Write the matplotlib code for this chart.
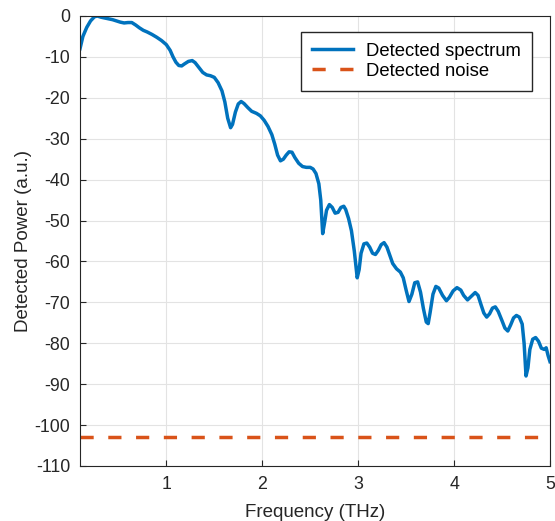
import matplotlib
matplotlib.use("Agg")
import matplotlib.pyplot as plt

plt.rcParams['font.family'] = ['Liberation Sans', 'DejaVu Sans']
plt.rcParams['axes.unicode_minus'] = False

# spectrum (THz, a.u.)
freq = [0.10, 0.13, 0.17, 0.21, 0.25, 0.28, 0.32, 0.36, 0.40, 0.44, 0.48, 0.52,
        0.56, 0.60, 0.64, 0.68, 0.72, 0.76, 0.80, 0.85, 0.90, 0.95, 1.00, 1.04,
        1.07, 1.10, 1.13, 1.16, 1.19, 1.23, 1.27, 1.30, 1.34, 1.38, 1.42, 1.46,
        1.50, 1.54, 1.58, 1.61, 1.64, 1.67, 1.69, 1.72, 1.75, 1.78, 1.81, 1.85,
        1.89, 1.94, 1.98, 2.02, 2.06, 2.10, 2.13, 2.16, 2.19, 2.22, 2.25, 2.28,
        2.31, 2.34, 2.38, 2.42, 2.46, 2.50, 2.53, 2.56, 2.59, 2.61, 2.63, 2.65,
        2.67, 2.70, 2.73, 2.76, 2.79, 2.82, 2.85, 2.87, 2.90, 2.93, 2.96, 2.99,
        3.01, 3.03, 3.06, 3.09, 3.12, 3.15, 3.18, 3.21, 3.24, 3.27, 3.30, 3.33,
        3.36, 3.40, 3.44, 3.47, 3.50, 3.53, 3.56, 3.59, 3.62, 3.65, 3.68, 3.71,
        3.73, 3.75, 3.78, 3.81, 3.84, 3.88, 3.92, 3.95, 3.99, 4.03, 4.07, 4.10,
        4.14, 4.18, 4.22, 4.25, 4.28, 4.31, 4.34, 4.37, 4.40, 4.43, 4.46, 4.50,
        4.53, 4.56, 4.59, 4.62, 4.65, 4.68, 4.71, 4.73, 4.75, 4.77, 4.79, 4.82,
        4.85, 4.88, 4.91, 4.94, 4.96, 4.98, 5.00]
power = [-8.0, -5.0, -2.8, -1.2, -0.2, 0.0, -0.3, -0.5, -0.7, -0.9, -1.2, -1.5,
         -1.7, -1.6, -1.6, -2.2, -2.9, -3.5, -3.9, -4.5, -5.2, -6.0, -7.0, -8.4,
         -10.0, -11.3, -12.1, -12.2, -11.7, -11.1, -10.9, -11.4, -12.6, -13.8, -14.4, -14.6,
         -15.0, -16.3, -18.3, -21.0, -25.0, -27.3, -26.5, -23.5, -21.5, -20.9, -21.4, -22.4,
         -23.3, -23.8, -24.4, -25.5, -27.0, -29.0, -31.3, -34.0, -35.4, -35.0, -34.0, -33.2,
         -33.3, -34.6, -36.0, -36.8, -37.0, -37.0, -37.4, -38.5, -41.0, -45.0, -53.2, -50.5,
         -47.5, -46.1, -46.8, -48.2, -48.0, -46.8, -46.5, -47.3, -49.5, -52.5, -57.5, -64.0,
         -62.0, -58.0, -55.7, -55.5, -56.5, -58.0, -58.3, -57.3, -55.9, -55.4, -56.5, -58.5,
         -60.5, -61.8, -62.6, -64.0, -67.0, -69.8, -68.0, -65.2, -65.0, -67.5, -71.5, -74.8,
         -75.2, -72.5, -68.0, -66.1, -66.5, -68.3, -69.6, -68.8, -67.2, -66.4, -67.0, -68.3,
         -69.4, -68.5, -67.6, -68.3, -70.5, -72.6, -73.6, -72.8, -71.4, -71.1, -72.2, -74.5,
         -76.3, -77.0, -75.5, -73.8, -73.2, -73.6, -75.3, -80.0, -88.0, -86.0, -81.5, -79.0,
         -78.6, -79.5, -81.2, -81.5, -81.1, -83.0, -84.5]

noise_freq = [0.10, 5.00]
noise_level = [-103, -103]

xticks = [1, 2, 3, 4, 5]
yticks = list(range(0, -111, -10))

fig = plt.figure(figsize=(5.55, 5.21), dpi=100)
ax = fig.add_axes([80 / 555, 1 - 466 / 521, 470 / 555, 450 / 521])

ax.plot(freq, power, color='#0072BD', lw=2.5, label='Detected spectrum')
ax.plot(noise_freq, noise_level, color='#D95319', lw=2.5, dashes=(3.8, 4.2),
        label='Detected noise')

ax.set_xlim(0.1, 5)
ax.set_ylim(-110, 0)
ax.set_xticks(xticks)
ax.set_yticks(yticks)
ax.grid(True, color='#e3e3e3', lw=0.8)
ax.set_axisbelow(True)
ax.tick_params(direction='in', length=4, labelsize=12.8, colors='#262626', pad=7)
for s in ax.spines.values():
    s.set_color('#262626')
    s.set_linewidth(0.8)

ax.set_xlabel('Frequency (THz)', fontsize=13.5, color='#262626', labelpad=8)
ax.set_ylabel('Detected Power (a.u.)', fontsize=13.5, color='#262626', labelpad=2)

leg = ax.legend(loc='upper right', bbox_to_anchor=(0.961, 0.965), borderaxespad=0,
                fontsize=13.3, fancybox=False, edgecolor='#262626', framealpha=1,
                handlelength=2.2, handletextpad=0.7, labelspacing=0.15,
                borderpad=0.6)
leg.get_frame().set_linewidth(1.0)

fig.savefig('out.png', dpi=100)
